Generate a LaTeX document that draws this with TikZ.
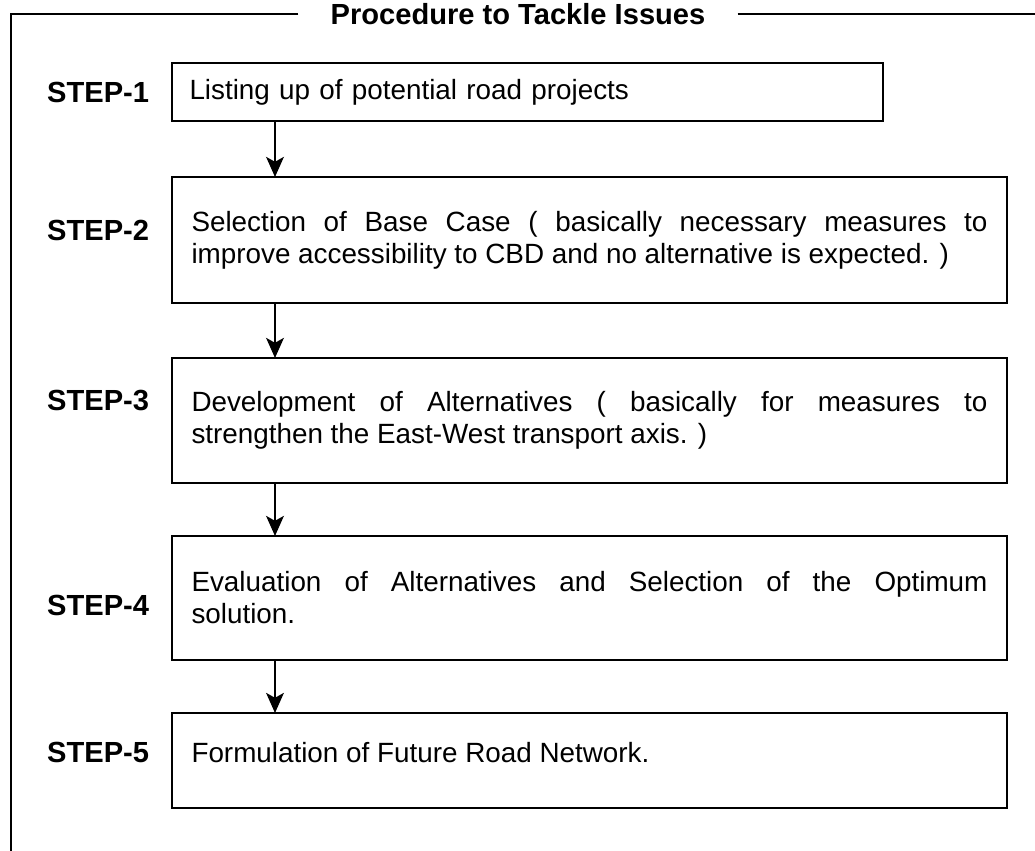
\documentclass[tikz,border=0pt]{standalone}
\usepackage{fontspec}
\setmainfont{Liberation Sans}
\usetikzlibrary{
    arrows.meta,
    positioning
}
\hyphenpenalty=10000
\tolerance=9999
\tikzset{
    stepbox/.style={
        draw,
        line width=2.1pt,
        outer sep=0pt,
        anchor=north west,
        minimum width=20.875cm,
        text width=19.9cm,
        align=justify,
        font=\fontsize{19.8}{22.8}\selectfont
    },
    steplabel/.style={
        font=\bfseries\fontsize{20.7}{24}\selectfont
    },
    flow/.style={
        -{Stealth[length=0.5cm, width=0.44cm, inset=0.12cm]},
        line width=2pt
    },
    frame/.style={
        line width=2.1pt
    }
}
\begin{document}
\begin{tikzpicture}
        \useasboundingbox (0,0) rectangle (25.875,-21.25);

        % Title and frame
        \coordinate (corner) at (0.275,-0.35);
        \coordinate (frameend) at (0.275,-21.3);
        \coordinate (rightend) at (25.9,-0.35);
        \node [steplabel, inner xsep=0.8cm] (title) at (12.95,-0.35) {Procedure to Tackle Issues};
        \draw [frame] (title.west) -- (corner) -- (frameend);
        \draw [frame] (title.east) -- (rightend);

        % Step 1
        \node [stepbox, minimum width=17.775cm, text width=16.9cm, align=left, minimum height=1.45cm] (listing) at (4.3,-1.575) {Listing up of potential road projects};

        % Step 2
        \node [stepbox, below=1.4cm of listing.south west, anchor=north west, minimum height=3.15cm] (basecase) {Selection of Base Case ( basically necessary measures to improve accessibility to CBD and no alternative is expected. )};

        % Step 3
        \node [stepbox, below=1.375cm of basecase.south west, anchor=north west, minimum height=3.125cm] (alternatives) {Development of Alternatives ( basically for measures to strengthen the East-West transport axis. )};

        % Step 4
        \node [stepbox, below=1.325cm of alternatives.south west, anchor=north west, minimum height=3.1cm] (evaluation) {Evaluation of Alternatives and Selection of the Optimum\linebreak solution.};

        % Step 5
        \node [stepbox, below=1.325cm of evaluation.south west, anchor=north west, minimum height=2.375cm, text depth=0.4cm] (network) {Formulation of Future Road Network.};

        % Step labels
        \node [steplabel, left=0.45cm of listing.west] (step1) {STEP-1};
        \node [steplabel, left=0.45cm of basecase.west, yshift=0.25cm] (step2) {STEP-2};
        \node [steplabel, left=0.45cm of alternatives.west, yshift=0.5cm] (step3) {STEP-3};
        \node [steplabel, left=0.45cm of evaluation.west, yshift=-0.175cm] (step4) {STEP-4};
        \node [steplabel, left=0.45cm of network.west, yshift=0.19cm] (step5) {STEP-5};

        % Arrows between steps
        \draw [flow] ([xshift=2.575cm]listing.south west) -- ([xshift=2.575cm]basecase.north west);
        \draw [flow] ([xshift=2.575cm]basecase.south west) -- ([xshift=2.575cm]alternatives.north west);
        \draw [flow] ([xshift=2.575cm]alternatives.south west) -- ([xshift=2.575cm]evaluation.north west);
        \draw [flow] ([xshift=2.575cm]evaluation.south west) -- ([xshift=2.575cm]network.north west);
\end{tikzpicture}
\end{document}
